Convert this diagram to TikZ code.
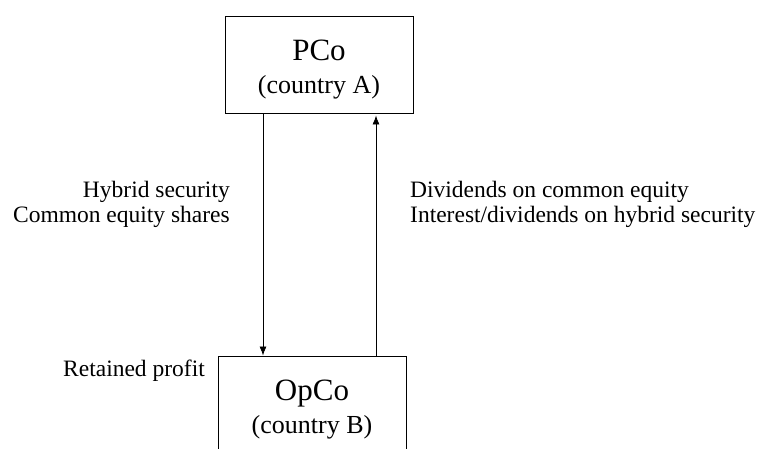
\documentclass[tikz,border=0pt]{standalone}
\usepackage{fontspec}
\setmainfont{Liberation Serif}
\usetikzlibrary{arrows.meta}

\begin{document}
\begin{tikzpicture}[x=1pt, y=1pt,
    entity/.style={draw, line width=0.9pt, minimum width=188pt, minimum height=97pt,
        align=center, inner sep=0pt, font=\fontsize{26}{33}\selectfont},
    flow/.style={line width=0.8pt, -{Latex[length=9pt, width=7pt]}},
    note/.style={inner sep=0pt, font=\fontsize{23.5}{25}\selectfont}]

\useasboundingbox (0,0) rectangle (763,-448);

% the two companies
\node[entity] (pco) at (319,-64.5) {{\fontsize{31}{33}\selectfont\rule{0pt}{30pt}PCo}\\(country A)};
\node[entity] (opco) at (312,-404.5) {{\fontsize{31}{33}\selectfont\rule{0pt}{30pt}OpCo}\\(country B)};

% flows between them
\draw[flow] ([xshift=-56pt]pco.south) -- ([xshift=-49pt]opco.north);
\draw[flow, shorten >=2pt] ([xshift=64pt]opco.north) -- ([xshift=57pt]pco.south);

\node[note, anchor=north east, align=right] (outflow) at (230,-181) {Hybrid security\\Common equity shares};
\node[note, anchor=north west, align=left] (inflow) at (410,-181) {Dividends on common equity\\Interest/dividends on hybrid security};
\node[note, anchor=base east] (retained) at (205,-376) {Retained profit};
\end{tikzpicture}
\end{document}
